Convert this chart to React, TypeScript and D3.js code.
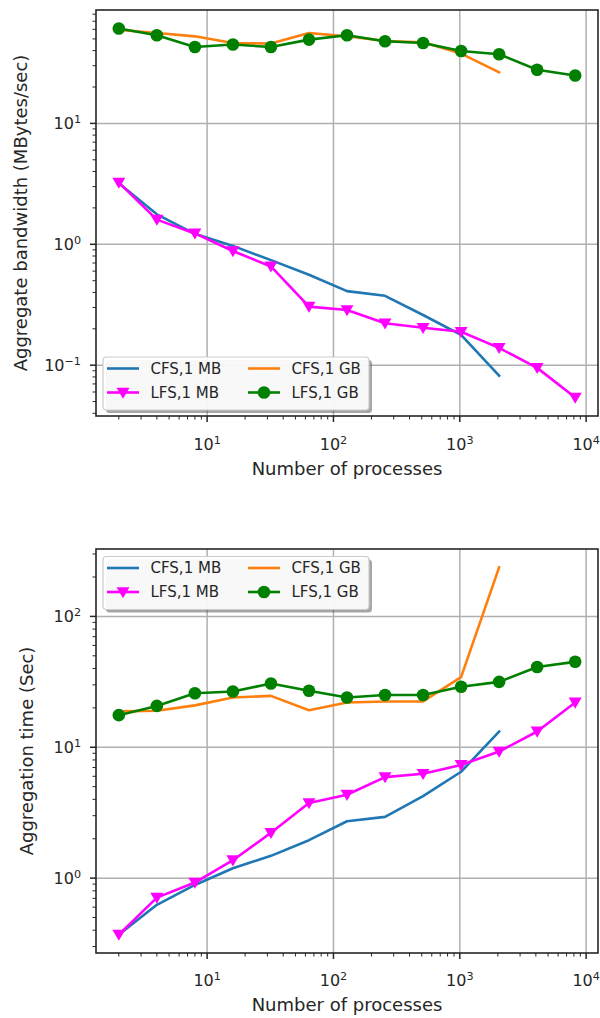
import React from "react";
import * as d3 from "d3";

// ---------------- data ----------------
const procs = [2, 4, 8, 16, 32, 64, 128, 256, 512, 1024, 2048, 4096, 8192];
const procsCFS = [2, 4, 8, 16, 32, 64, 128, 256, 512, 1024, 2048];

// aggregate bandwidth (MBytes/sec)
const bwCFS1MB = [3.2, 1.77, 1.22, 0.97, 0.74, 0.56, 0.41, 0.375, 0.26, 0.178, 0.082];
const bwLFS1MB = [3.24, 1.6, 1.23, 0.88, 0.656, 0.305, 0.286, 0.222, 0.204, 0.189, 0.139, 0.095, 0.054];
const bwCFS1GB = [59.5, 56, 52.5, 46.3, 45.7, 56, 52.5, 48, 46.8, 37.8, 26.5];
const bwLFS1GB = [61, 53.6, 42.8, 44.9, 42.8, 49.3, 53.6, 47.8, 46.3, 39.7, 37.3, 27.8, 24.9];

// aggregation time (Sec)
const tCFS1MB = [0.37, 0.625, 0.887, 1.19, 1.48, 1.95, 2.72, 2.94, 4.24, 6.5, 13.2];
const tLFS1MB = [0.37, 0.71, 0.925, 1.37, 2.22, 3.75, 4.34, 5.91, 6.27, 7.33, 9.27, 13.2, 22];
const tCFS1GB = [18.8, 19, 20.9, 24, 24.7, 19.2, 22, 22.4, 22.4, 34.4, 237];
const tLFS1GB = [17.6, 20.7, 25.9, 26.7, 30.7, 27, 24, 25.1, 25.1, 29, 31.6, 41.1, 45];

const seriesNames = ["CFS,1 MB", "LFS,1 MB", "CFS,1 GB", "LFS,1 GB"];
const xLabel = "Number of processes";
const yLabels = ["Aggregate bandwidth (MBytes/sec)", "Aggregation time (Sec)"];

// ---------------- style ----------------
const COLORS = ["#1f77b4", "#ff00ff", "#ff7f0e", "#008000"];
const MARKERS = ["none", "tri", "none", "circle"];
const FONT = "DejaVu Sans, Verdana, sans-serif";
const W = 600;
const H = 1018;
const LEFT = 96;
const RIGHT = 598;

type Series = { name: string; x: number[]; y: number[]; color: string; marker: string };

function Marker({ kind, x, y, color }: { kind: string; x: number; y: number; color: string }) {
  if (kind === "circle") return <circle cx={x} cy={y} r={6.3} fill={color} />;
  if (kind === "tri") {
    const s = 6.5;
    return (
      <path
        d={`M${x - s},${y - s * 0.75} L${x + s},${y - s * 0.75} L${x},${y + s * 0.95} Z`}
        fill={color}
      />
    );
  }
  return null;
}

function Sup({ exp }: { exp: number }) {
  const e = exp < 0 ? "\u2212" + Math.abs(exp) : String(exp);
  return (
    <>
      10
      <tspan fontSize="0.7em" dy="-0.55em">
        {e}
      </tspan>
    </>
  );
}

function Panel({
  top,
  bottom,
  series,
  yLabel,
  yLabelX,
  xTickY,
  xLabelY,
  legendY,
}: {
  top: number;
  bottom: number;
  series: Series[];
  yLabel: string;
  yLabelX: number;
  xTickY: number;
  xLabelY: number;
  legendY: number;
}) {
  const allX = series.flatMap((s) => s.x);
  const allY = series.flatMap((s) => s.y);
  const lx = [Math.log10(d3.min(allX)!), Math.log10(d3.max(allX)!)];
  const ly = [Math.log10(d3.min(allY)!), Math.log10(d3.max(allY)!)];
  const mx = (lx[1] - lx[0]) * 0.05;
  const my = (ly[1] - ly[0]) * 0.05;
  const x = d3.scaleLog().domain([10 ** (lx[0] - mx), 10 ** (lx[1] + mx)]).range([LEFT, RIGHT]);
  const y = d3.scaleLog().domain([10 ** (ly[0] - my), 10 ** (ly[1] + my)]).range([bottom, top]);

  const ticks = (sc: d3.ScaleLogarithmic<number, number>) => {
    const [a, b] = sc.domain();
    const major: number[] = [];
    const minor: number[] = [];
    for (let k = Math.floor(Math.log10(a)); k <= Math.ceil(Math.log10(b)); k++) {
      const v = 10 ** k;
      if (v >= a && v <= b) major.push(k);
      for (let m = 2; m <= 9; m++) {
        const w = m * 10 ** k;
        if (w >= a && w <= b) minor.push(w);
      }
    }
    return { major, minor };
  };
  const xt = ticks(x);
  const yt = ticks(y);

  const line = d3
    .line<[number, number]>()
    .x((d) => x(d[0]))
    .y((d) => y(d[1]));

  const gridColor = "#b0b0b0";
  const spine = "#262626";

  // legend layout
  const lgX = 103;
  const lgW = 266;
  const lgH = 53;
  const rowY = [legendY + 11.5, legendY + 35.5];
  const colX = [107, 248];

  return (
    <g>
      {/* grid */}
      {xt.major.map((k) => (
        <line key={"gx" + k} x1={x(10 ** k)} x2={x(10 ** k)} y1={top} y2={bottom} stroke={gridColor} strokeWidth={1.5} />
      ))}
      {yt.major.map((k) => (
        <line key={"gy" + k} x1={LEFT} x2={RIGHT} y1={y(10 ** k)} y2={y(10 ** k)} stroke={gridColor} strokeWidth={1.5} />
      ))}

      {/* series */}
      {series.map((s, i) => (
        <g key={"s" + i}>
          <path
            d={line(s.x.map((v, j) => [v, s.y[j]] as [number, number]))!}
            fill="none"
            stroke={s.color}
            strokeWidth={2.6}
            strokeLinejoin="round"
            strokeLinecap="square"
          />
          {s.x.map((v, j) => (
            <Marker key={j} kind={s.marker} x={x(v)} y={y(s.y[j])} color={s.color} />
          ))}
        </g>
      ))}

      {/* spines */}
      <rect x={LEFT} y={top} width={RIGHT - LEFT} height={bottom - top} fill="none" stroke={spine} strokeWidth={1.6} />

      {/* x ticks */}
      {xt.major.map((k) => (
        <g key={"xt" + k}>
          <line x1={x(10 ** k)} x2={x(10 ** k)} y1={bottom} y2={bottom + 6} stroke={spine} strokeWidth={1.5} />
          <text x={x(10 ** k)} y={xTickY} textAnchor="middle" fontSize={16} fontFamily={FONT} fill="#262626">
            <Sup exp={k} />
          </text>
        </g>
      ))}
      {xt.minor.map((v, i) => (
        <line key={"xm" + i} x1={x(v)} x2={x(v)} y1={bottom} y2={bottom + 3.5} stroke={spine} strokeWidth={1} />
      ))}

      {/* y ticks */}
      {yt.major.map((k) => (
        <g key={"yt" + k}>
          <line x1={LEFT - 6} x2={LEFT} y1={y(10 ** k)} y2={y(10 ** k)} stroke={spine} strokeWidth={1.5} />
          <text x={81} y={y(10 ** k) + 6} textAnchor="end" fontSize={16} fontFamily={FONT} fill="#262626">
            <Sup exp={k} />
          </text>
        </g>
      ))}
      {yt.minor.map((v, i) => (
        <line key={"ym" + i} x1={LEFT - 3.5} x2={LEFT} y1={y(v)} y2={y(v)} stroke={spine} strokeWidth={1} />
      ))}

      {/* axis labels */}
      <text x={(LEFT + RIGHT) / 2} y={xLabelY} textAnchor="middle" fontSize={18} fontFamily={FONT} fill="#262626">
        {xLabel}
      </text>
      <text
        transform={`translate(${yLabelX},${(top + bottom) / 2}) rotate(-90)`}
        textAnchor="middle"
        fontSize={18}
        fontFamily={FONT}
        fill="#262626"
      >
        {yLabel}
      </text>

      {/* legend */}
      <rect x={lgX + 3} y={legendY + 3} width={lgW} height={lgH} rx={3.5} fill="#4d4d4d" fillOpacity={0.5} />
      <rect x={lgX} y={legendY} width={lgW} height={lgH} rx={3.5} fill="#ffffff" fillOpacity={0.92} stroke="#cccccc" strokeWidth={1.2} />
      {series.map((s, i) => {
        const cx = colX[Math.floor(i / 2)];
        const cy = rowY[i % 2];
        return (
          <g key={"lg" + i}>
            <line x1={cx} x2={cx + 32} y1={cy} y2={cy} stroke={s.color} strokeWidth={2.6} />
            <Marker kind={s.marker} x={cx + 16} y={cy} color={s.color} />
            <text x={cx + 43.5} y={cy + 5.4} fontSize={15} fontFamily={FONT} fill="#262626">
              {s.name}
            </text>
          </g>
        );
      })}
    </g>
  );
}

function makeSeries(vals: number[][]): Series[] {
  return vals.map((v, i) => ({
    name: seriesNames[i],
    x: v.length === procs.length ? procs : procsCFS,
    y: v,
    color: COLORS[i],
    marker: MARKERS[i],
  }));
}

export default function App() {
  const topSeries = makeSeries([bwCFS1MB, bwLFS1MB, bwCFS1GB, bwLFS1GB]);
  const botSeries = makeSeries([tCFS1MB, tLFS1MB, tCFS1GB, tLFS1GB]);
  return (
    <svg
      width={W}
      height={H}
      viewBox={`0 0 ${W} ${H}`}
      style={{ position: "absolute", left: 0, top: 0, background: "#ffffff" }}
    >
      <rect x={0} y={0} width={W} height={H} fill="#ffffff" />
      <Panel
        top={10}
        bottom={416}
        series={topSeries}
        yLabel={yLabels[0]}
        yLabelX={27}
        xTickY={450}
        xLabelY={475}
        legendY={357}
      />
      <Panel
        top={549}
        bottom={953}
        series={botSeries}
        yLabel={yLabels[1]}
        yLabelX={33}
        xTickY={986}
        xLabelY={1011}
        legendY={556.5}
      />
    </svg>
  );
}
